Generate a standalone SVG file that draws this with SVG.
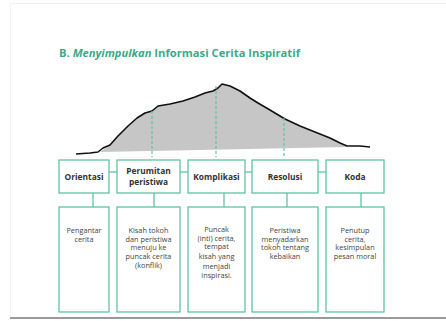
<svg xmlns="http://www.w3.org/2000/svg" width="446" height="321" viewBox="0 0 446 321">
<style>
.box{fill:#fff;stroke:#5fc4a4;stroke-width:1.3}
.con{stroke:#5fc4a4;stroke-width:1.3;fill:none}
.dash{stroke:#5fc4a4;stroke-width:1.2;stroke-dasharray:3 2;fill:none}
.hd{font-family:"Open Sans","Liberation Sans",sans-serif;font-size:8.4px;font-weight:bold;fill:#333;text-anchor:middle}
.bd{font-family:"Open Sans","Liberation Sans",sans-serif;font-size:7.3px;fill:#444;text-anchor:middle}
</style>
<rect width="446" height="321" fill="#fff"/>
<line x1="10" y1="3.5" x2="446" y2="3.5" stroke="#f0f0f0" stroke-width="1"/>
<line x1="10.5" y1="4" x2="10.5" y2="316" stroke="#f4f4f4" stroke-width="1"/>
<line x1="10" y1="318" x2="446" y2="318" stroke="#9a9a9a" stroke-width="2"/>
<text x="59" y="57" font-family="Open Sans,Liberation Sans,sans-serif" font-size="10.5" font-weight="bold" fill="#3aaa8a" textLength="241" lengthAdjust="spacingAndGlyphs">B. <tspan font-style="italic">Menyimpulkan</tspan> Informasi Cerita Inspiratif</text>
<g id="curve">
<path d="M100,152 L110,145 L118,136 L128,126 L137,118 L145,113 L152,111 L158,106 L170,104 L183,101 L195,97 L205,93 L213,91 L218,88 L222,84 L230,86 L240,91 L250,98 L258,103 L270,110 L285,119 L300,126 L315,132 L330,138 L340,143 L347,147 Z" fill="#c6c6c6"/>
<path d="M76,154 L90,153 L98,152 L103,148 L110,145 L118,136 L128,126 L137,118 L145,113 L152,111 L158,106 L170,104 L183,101 L195,97 L205,93 L213,91 L218,88 L222,84 L230,86 L240,91 L250,98 L258,103 L270,110 L285,119 L300,126 L315,132 L330,138 L340,143 L347,146 L360,146 L370,147" fill="none" stroke="#111" stroke-width="1.6" stroke-linejoin="round"/>
</g>
<g id="connectors">
<line class="dash" x1="152" y1="111" x2="152" y2="157"/>
<line class="dash" x1="216" y1="86" x2="216" y2="157"/>
<line class="dash" x1="284" y1="118" x2="284" y2="157"/>
<line class="con" x1="109" y1="172" x2="117" y2="172"/>
<line class="con" x1="180" y1="172" x2="188" y2="172"/>
<line class="con" x1="245" y1="172" x2="252" y2="172"/>
<line class="con" x1="318" y1="172" x2="326" y2="172"/>
<line class="con" x1="93" y1="193" x2="93" y2="207"/>
<line class="con" x1="154" y1="193" x2="154" y2="207"/>
<line class="con" x1="224" y1="193" x2="224" y2="207"/>
<line class="con" x1="287" y1="193" x2="287" y2="207"/>
<line class="con" x1="361" y1="193" x2="361" y2="207"/>
</g>
<g id="orientasi">
<rect class="box" x="59" y="160" width="50" height="33"/>
<text class="hd" x="84" y="180">Orientasi</text>
</g>
<g id="perumitan">
<rect class="box" x="117" y="160" width="63" height="33"/>
<text class="hd" x="148.5" y="174">Perumitan</text>
<text class="hd" x="148.5" y="185">peristiwa</text>
</g>
<g id="komplikasi">
<rect class="box" x="188" y="160" width="57" height="33"/>
<text class="hd" x="216.5" y="180">Komplikasi</text>
</g>
<g id="resolusi">
<rect class="box" x="252" y="160" width="66" height="33"/>
<text class="hd" x="285" y="180">Resolusi</text>
</g>
<g id="koda">
<rect class="box" x="326" y="160" width="58" height="33"/>
<text class="hd" x="355" y="180">Koda</text>
</g>
<g id="orientasi-desc">
<rect class="box" x="59" y="207" width="50" height="105"/>
<text class="bd" x="84" y="233">Pengantar</text>
<text class="bd" x="84" y="241.5">cerita</text>
</g>
<g id="perumitan-desc">
<rect class="box" x="117" y="207" width="63" height="105"/>
<text class="bd" x="148.5" y="233">Kisah tokoh</text>
<text class="bd" x="148.5" y="241.5">dan peristiwa</text>
<text class="bd" x="148.5" y="250">menuju ke</text>
<text class="bd" x="148.5" y="259">puncak cerita</text>
<text class="bd" x="148.5" y="267.5">(konflik)</text>
</g>
<g id="komplikasi-desc">
<rect class="box" x="188" y="207" width="57" height="105"/>
<text class="bd" x="216.5" y="232">Puncak</text>
<text class="bd" x="216.5" y="240.5">(inti) cerita,</text>
<text class="bd" x="216.5" y="249">tempat</text>
<text class="bd" x="216.5" y="259">kisah yang</text>
<text class="bd" x="216.5" y="269">menjadi</text>
<text class="bd" x="216.5" y="278">inspirasi.</text>
</g>
<g id="resolusi-desc">
<rect class="box" x="252" y="207" width="66" height="105"/>
<text class="bd" x="285" y="233">Peristiwa</text>
<text class="bd" x="285" y="241.5">menyadarkan</text>
<text class="bd" x="285" y="250">tokoh tentang</text>
<text class="bd" x="285" y="259">kebaikan</text>
</g>
<g id="koda-desc">
<rect class="box" x="326" y="207" width="58" height="105"/>
<text class="bd" x="355" y="233">Penutup</text>
<text class="bd" x="355" y="241.5">cerita,</text>
<text class="bd" x="355" y="250">kesimpulan</text>
<text class="bd" x="355" y="259">pesan moral</text>
</g>
</svg>
